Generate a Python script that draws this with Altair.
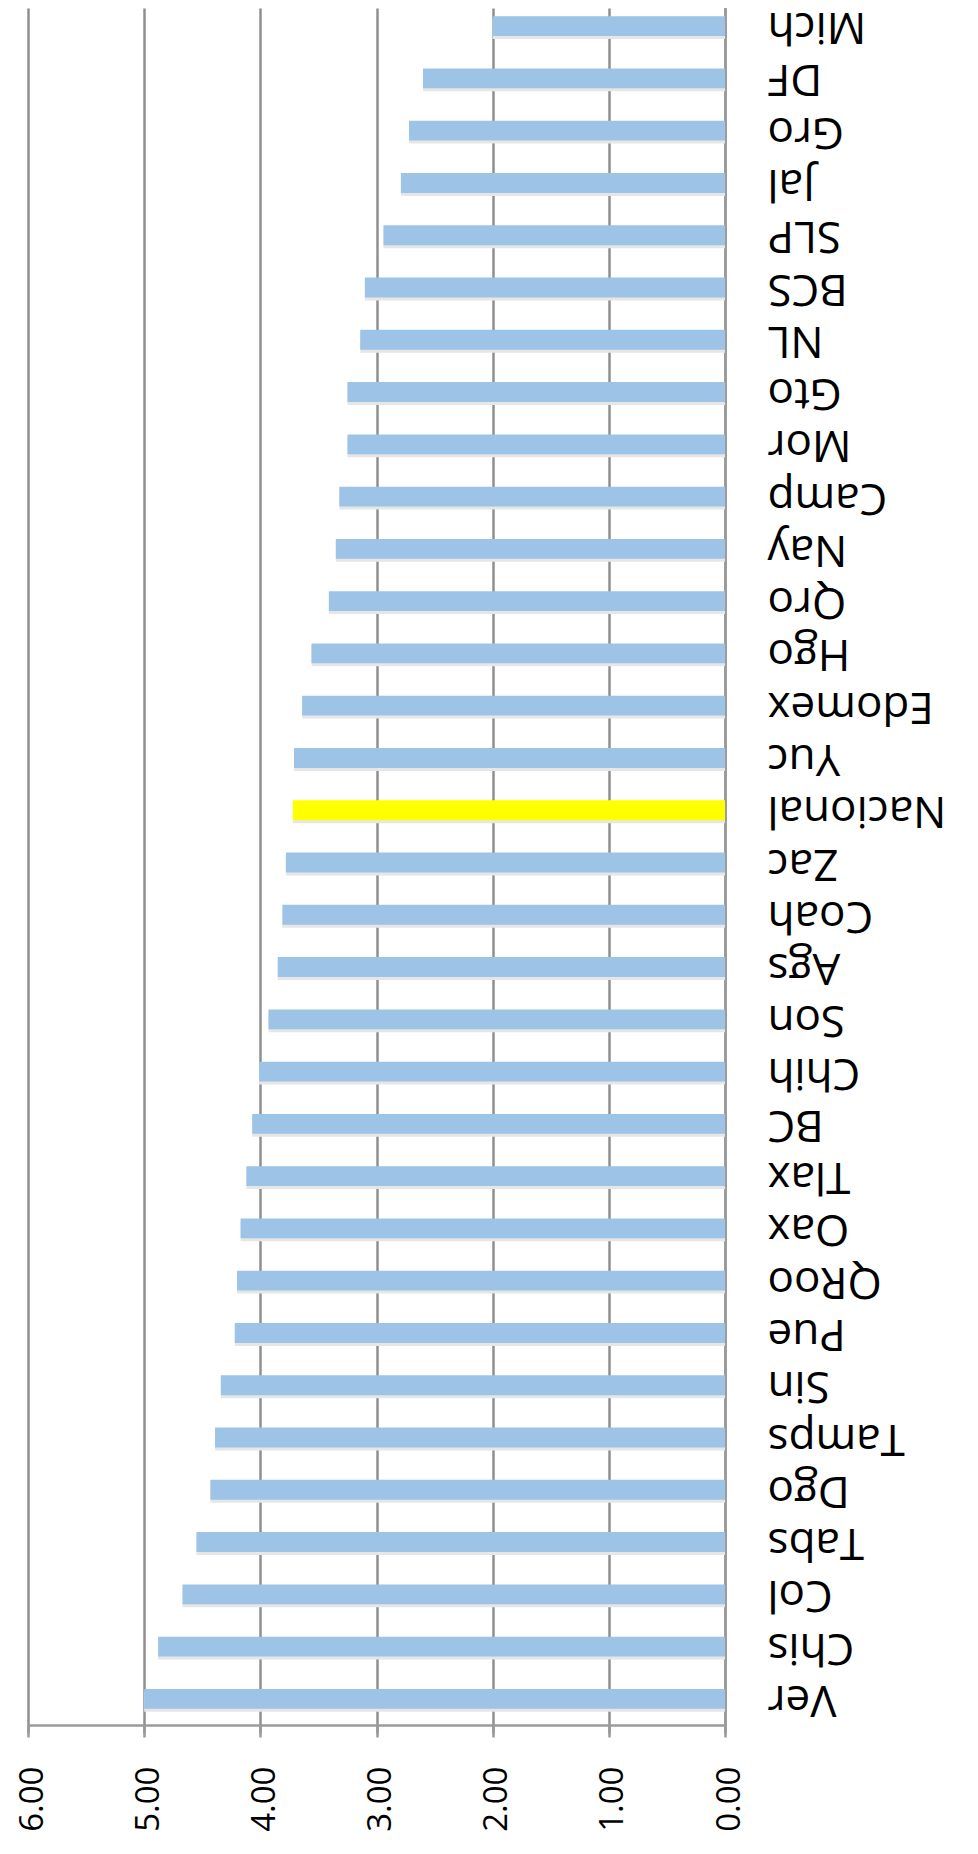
import altair as alt
import pandas as pd

states = ["Mich", "DF", "Gro", "Jal", "SLP", "BCS", "NL", "Gto", "Mor", "Camp", "Nay",
          "Qro", "Hgo", "Edomex", "Yuc", "Nacional", "Zac", "Coah", "Ags", "Son", "Chih",
          "BC", "Tlax", "Oax", "QRoo", "Pue", "Sin", "Tamps", "Dgo", "Tabs", "Col", "Chis", "Ver"]
values = [2.00, 2.60, 2.72, 2.79, 2.94, 3.10, 3.14, 3.25, 3.25, 3.32, 3.35,
          3.41, 3.56, 3.64, 3.71, 3.72, 3.78, 3.81, 3.85, 3.93, 4.01,
          4.07, 4.12, 4.17, 4.20, 4.22, 4.34, 4.39, 4.43, 4.55, 4.67, 4.88, 5.00]
highlight = "Nacional"
tick_values = [0, 1, 2, 3, 4, 5, 6]

df = pd.DataFrame({"estado": states, "valor": values})
df["grupo"] = ["nacional" if s == highlight else "estado" for s in states]

PLOT_W = 697
PLOT_H = 1717

y_enc = alt.Y(
    "estado:N",
    sort=states,
    scale=alt.Scale(range=[-8, PLOT_H], paddingInner=0.62, paddingOuter=0.31),
    axis=alt.Axis(
        orient="right",
        title=None,
        ticks=False,
        labelAngle=180,
        labelAlign="right",
        labelBaseline="middle",
        labelPadding=42,
        labelFont="Open Sans",
        labelFontSize=44,
        labelColor="#000000",
        domain=True,
        domainColor="#9a9a9a",
        domainWidth=2.5,
        grid=False,
    ),
)

x_enc = alt.X(
    "valor:Q",
    scale=alt.Scale(domain=[0, 6], reverse=True, nice=False, zero=True),
    axis=alt.Axis(
        orient="bottom",
        title=None,
        values=tick_values,
        format=".2f",
        labelAngle=-90,
        labelAlign="right",
        labelBaseline="middle",
        labelPadding=29,
        labelOffset=4,
        labelFont="Open Sans",
        labelFontSize=33,
        labelColor="#000000",
        tickSize=12,
        tickColor="#9a9a9a",
        tickWidth=2.5,
        domainColor="#9a9a9a",
        domainWidth=2.5,
        grid=True,
        gridColor="#8f8f8f",
        gridWidth=2.5,
        labelFlush=False,
        labelOverlap=False,
    ),
)

shadow = alt.Chart(df).mark_bar(color="#e6e6e6", yOffset=3).encode(
    x=alt.X("valor:Q", scale=alt.Scale(domain=[0, 6], reverse=True, nice=False)),
    y=alt.Y("estado:N", sort=states,
            scale=alt.Scale(range=[-8, PLOT_H], paddingInner=0.62, paddingOuter=0.31)),
)

bars = alt.Chart(df).mark_bar().encode(
    x=x_enc,
    y=y_enc,
    color=alt.Color(
        "grupo:N",
        scale=alt.Scale(domain=["estado", "nacional"], range=["#9dc3e6", "#ffff00"]),
        legend=None,
    ),
)

chart = (
    alt.layer(shadow, bars)
    .properties(
        width=PLOT_W,
        height=PLOT_H,
        autosize=alt.AutoSizeParams(type="none"),
        padding={"left": 20, "top": 0, "right": 240, "bottom": 120},
        background="#ffffff",
    )
    .configure_view(stroke=None)
)

chart.save("out.html", embed_options={"renderer": "svg", "actions": False})
